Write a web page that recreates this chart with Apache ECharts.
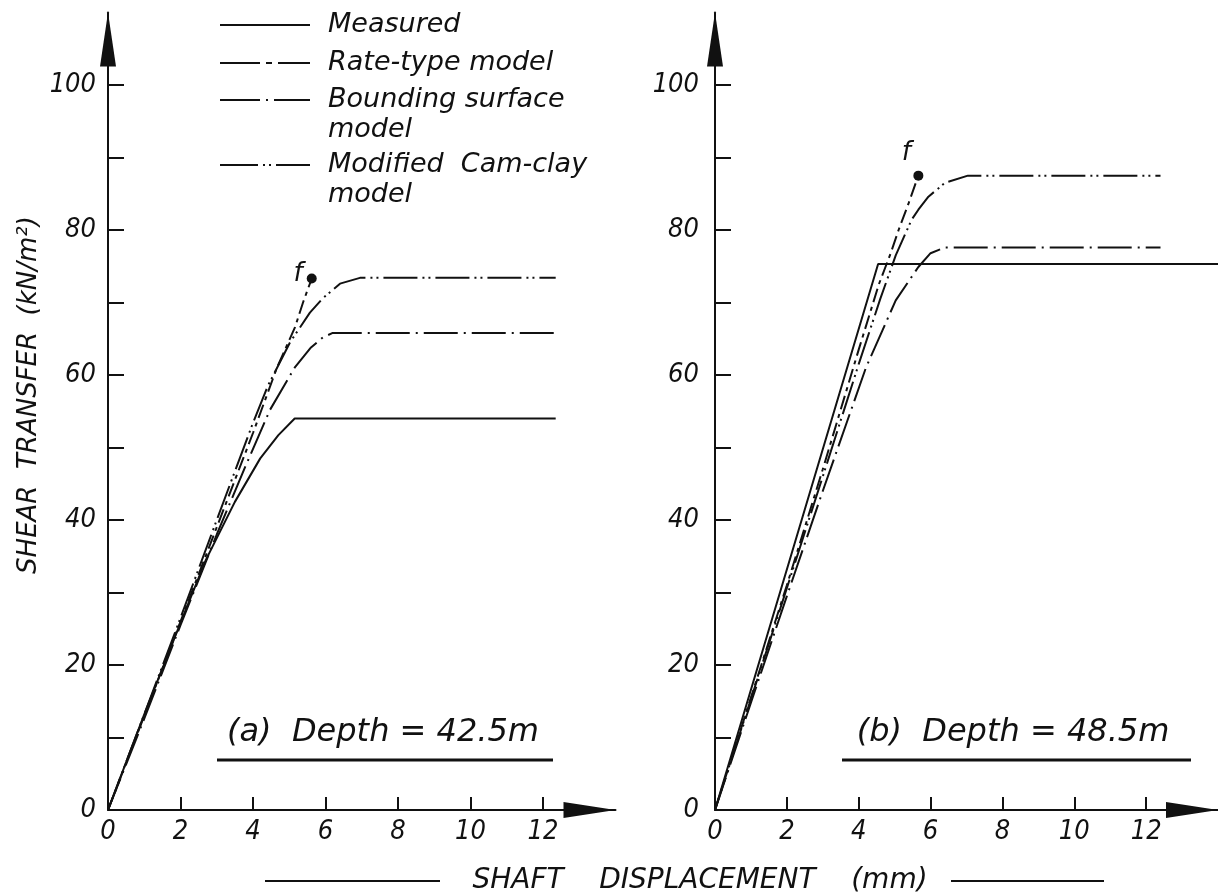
<!DOCTYPE html>
<html>
<head>
<meta charset="utf-8">
<script src="https://cdn.jsdelivr.net/npm/echarts@6/dist/echarts.min.js"></script>
<style>
  html, body { margin: 0; padding: 0; background: #fff; }
  #chart { width: 1218px; height: 893px; }
</style>
</head>
<body>
<div id="chart"></div>
<script>
// ---- tick values ----
const xTickValues = [0, 2, 4, 6, 8, 10, 12];
const yTickValues = [0, 10, 20, 30, 40, 50, 60, 70, 80, 90, 100];
const yLabelValues = [0, 20, 40, 60, 80, 100];

// ---- legend entries ----
const seriesNames = ['Measured', 'Rate-type model', 'Bounding surface model', 'Modified Cam-clay model'];
const legendLines = [['Measured'], ['Rate-type model'], ['Bounding surface', 'model'], ['Modified  Cam-clay', 'model']];

// ---- panel titles ----
const panelTitles = ['(a)  Depth = 42.5m', '(b)  Depth = 48.5m'];

// ---- (a) depth 42.5 m : [shaft displacement mm, shear transfer kN/m2] ----
const measuredA = [[0, 0], [1, 13.2], [2, 25.8], [2.7, 34.5], [3.5, 42.5], [4.2, 48.5], [4.7, 51.7], [5.15, 54], [12.35, 54]];
const rateTypeA = [[0, 0], [1, 13], [2, 26], [3, 39], [4, 52], [4.66, 61], [5.16, 66.6], [5.38, 70], [5.62, 73.3]];
const boundingA = [[0, 0], [1, 12.6], [2, 25.5], [3, 38], [3.8, 47.5], [4.47, 55.2], [5.16, 61.1], [5.6, 63.8], [5.93, 65.2], [6.2, 65.8], [12.35, 65.8]];
const camClayA = [[0, 0], [1, 13.2], [2, 26.5], [3, 40], [3.97, 53], [4.41, 58.5], [5.02, 64.5], [5.57, 68.6], [5.93, 70.6], [6.4, 72.6], [6.95, 73.4], [12.35, 73.4]];

// ---- (b) depth 48.5 m ----
const measuredB = [[0, 0], [4.54, 75.3], [14, 75.3]];
const rateTypeB = [[0, 0], [1, 15.5], [2, 31], [3, 47], [4, 63.5], [4.56, 72.5], [4.89, 76.8], [5.11, 80], [5.39, 83.7], [5.66, 87.5]];
const boundingB = [[0, 0], [1, 14.8], [2, 29.5], [3, 44], [4.2, 61], [5.03, 70.3], [5.66, 74.9], [6.0, 76.8], [6.4, 77.6], [12.4, 77.6]];
const camClayB = [[0, 0], [1, 15.3], [2, 30.6], [3, 46], [4, 61.5], [4.6, 70.5], [5.03, 76.5], [5.47, 81.4], [5.66, 82.8], [5.94, 84.6], [6.4, 86.5], [7.04, 87.5], [12.4, 87.5]];

// ---- styling ----
const FONT = "'DejaVu Sans', 'Liberation Sans', sans-serif";
const NUM_FONT = "'DejaVu Sans Condensed', 'DejaVu Sans', sans-serif";
const INK = '#111';
const DASHES = {
  'Measured': 'solid',
  'Rate-type model': [14, 5, 4, 5],
  'Bounding surface model': [34, 6, 2, 6],
  'Modified Cam-clay model': [34, 5, 2, 4, 2, 5]
};
// key lines in the legend show one break pattern centred on a 90 px stroke
const KEY_DASHES = {
  'Measured': null,
  'Rate-type model': [40, 6, 6, 6],
  'Bounding surface model': [40, 6, 2, 6],
  'Modified Cam-clay model': [38, 5, 2, 4, 2, 5]
};
const X_MAX = 14, Y_MAX = 110;
const PX_X = 36.25, PX_Y = 7.25;
const ORIGIN_Y = 810;
const PANEL_LEFT = [108, 715];

const grids = PANEL_LEFT.map(l => ({
  left: l, top: ORIGIN_Y - Y_MAX * PX_Y, width: X_MAX * PX_X, height: Y_MAX * PX_Y, containLabel: false
}));

const labelStyle = { color: INK, fontFamily: NUM_FONT, fontStyle: 'italic', fontSize: 27 };

const xAxes = [0, 1].map(i => ({
  gridIndex: i, type: 'value', min: 0, max: X_MAX, interval: 2,
  axisLine: { show: true, onZero: false, lineStyle: { color: INK, width: 2 },
    symbol: ['none', 'triangle'], symbolSize: [16, 52], symbolOffset: [0, -26] },
  axisTick: { show: true, inside: true, length: 13, lineStyle: { color: INK, width: 2 }, customValues: xTickValues },
  axisLabel: Object.assign({ margin: 8, customValues: xTickValues }, labelStyle),
  splitLine: { show: false }
}));

const yAxes = [0, 1].map(i => ({
  gridIndex: i, type: 'value', min: 0, max: Y_MAX, interval: 10,
  axisLine: { show: true, onZero: false, lineStyle: { color: INK, width: 2 },
    symbol: ['none', 'triangle'], symbolSize: [16, 54], symbolOffset: [0, -27] },
  axisTick: { show: true, inside: true, length: 16, lineStyle: { color: INK, width: 2 }, customValues: yTickValues },
  axisLabel: Object.assign({ margin: i === 0 ? 12 : 16, customValues: yLabelValues }, labelStyle),
  splitLine: { show: false }
}));

function withFailurePoint(pts, labelPos, labelOffset) {
  return pts.map((p, k) => k === pts.length - 1
    ? { value: p, symbol: 'circle', symbolSize: 10, itemStyle: { color: INK },
        label: { show: true, formatter: 'f', position: labelPos, distance: 4, offset: labelOffset,
                 color: INK, fontFamily: FONT, fontStyle: 'italic', fontSize: 26 } }
    : p);
}

function lineSeries(name, data, gi) {
  return {
    name, type: 'line', xAxisIndex: gi, yAxisIndex: gi, data,
    symbol: 'none', showAllSymbol: true, smooth: false, silent: true,
    lineStyle: { color: INK, width: 2, type: DASHES[name] }
  };
}

const series = [
  lineSeries('Measured', measuredA, 0),
  lineSeries('Rate-type model', withFailurePoint(rateTypeA, 'left', [0, -4]), 0),
  lineSeries('Bounding surface model', boundingA, 0),
  lineSeries('Modified Cam-clay model', camClayA, 0),
  lineSeries('Measured', measuredB, 1),
  lineSeries('Rate-type model', withFailurePoint(rateTypeB, 'top', [-12, 0]), 1),
  lineSeries('Bounding surface model', boundingB, 1),
  lineSeries('Modified Cam-clay model', camClayB, 1)
];

// ---- hand-laid legend (key lines + captions) ----
const legendRows = [25, 63, 100, 165];
const graphics = [];
seriesNames.forEach((name, i) => {
  const y = legendRows[i];
  graphics.push({ type: 'line', silent: true,
    shape: { x1: 220, y1: y, x2: 310, y2: y },
    style: { stroke: INK, lineWidth: 2, lineDash: KEY_DASHES[name] } });
  legendLines[i].forEach((txt, j) => {
    graphics.push({ type: 'text', silent: true, x: 328, y: y + j * 30,
      style: { text: txt, fill: INK, font: `italic 27px ${FONT}`, verticalAlign: 'middle', align: 'left' } });
  });
});

// panel captions with underline
[[383, 217, 553], [1013, 842, 1191]].forEach(([cx, u1, u2], i) => {
  graphics.push({ type: 'text', silent: true, x: cx, y: 733,
    style: { text: panelTitles[i], fill: INK, font: `italic 32px ${FONT}`, align: 'center', verticalAlign: 'middle' } });
  graphics.push({ type: 'line', silent: true, shape: { x1: u1, y1: 760, x2: u2, y2: 760 },
    style: { stroke: INK, lineWidth: 3 } });
});

// shared x-axis title flanked by rules
graphics.push({ type: 'text', silent: true, x: 700, y: 881,
  style: { text: 'SHAFT    DISPLACEMENT    (mm)', fill: INK, font: `italic 28px ${FONT}`, align: 'center', verticalAlign: 'middle' } });
graphics.push({ type: 'line', silent: true, shape: { x1: 265, y1: 881, x2: 440, y2: 881 }, style: { stroke: INK, lineWidth: 2 } });
graphics.push({ type: 'line', silent: true, shape: { x1: 951, y1: 881, x2: 1104, y2: 881 }, style: { stroke: INK, lineWidth: 2 } });

// y-axis title
graphics.push({ type: 'text', silent: true, x: 29, y: 395, rotation: Math.PI / 2,
  style: { text: 'SHEAR  TRANSFER  (kN/m²)', fill: INK, font: `italic 26px ${FONT}`, align: 'center', verticalAlign: 'middle' } });

const chart = echarts.init(document.getElementById('chart'), null, { renderer: 'canvas' });
chart.setOption({
  backgroundColor: '#fff',
  animation: false,
  grid: grids,
  xAxis: xAxes,
  yAxis: yAxes,
  series,
  graphic: graphics
});
</script>
</body>
</html>
